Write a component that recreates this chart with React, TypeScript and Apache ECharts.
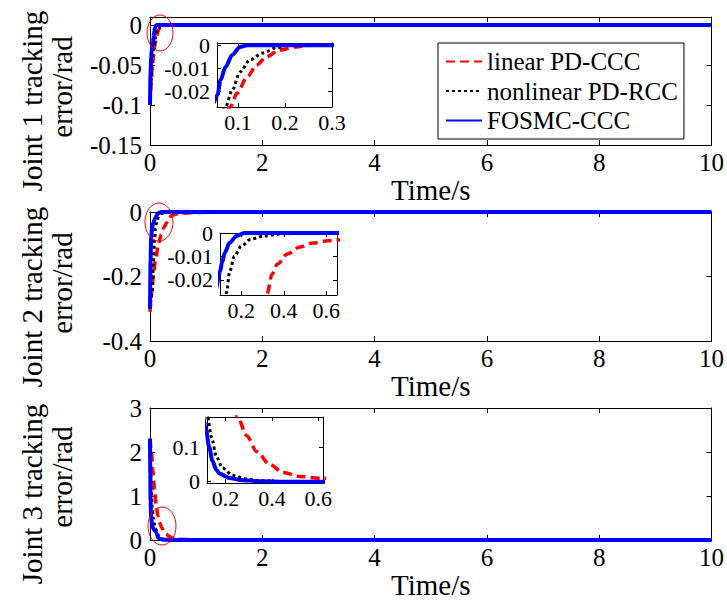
import React, { useEffect, useRef } from "react";
import * as echarts from "echarts";

const FONT = "Liberation Serif";

const SERIES_NAMES = ["linear PD-CCC", "nonlinear PD-RCC", "FOSMC-CCC"];
const COLORS = ["#ff0000", "#000000", "#0000ff"];

// Joint 1 tracking error (rad) vs time (s)
const j1LinearT = [0, 0.02, 0.036, 0.06, 0.083, 0.098, 0.119, 0.14, 0.16, 0.1875, 0.223, 0.256, 0.4, 10];
const j1LinearE = [-0.1, -0.075, -0.058, -0.04, -0.027, -0.0209, -0.0139, -0.0086, -0.0051, -0.0021, -0.0007, 0, 0, 0];
const j1NonlinT = [0, 0.02, 0.04, 0.06, 0.073, 0.0875, 0.104, 0.125, 0.152, 0.181, 0.202, 0.35, 10];
const j1NonlinE = [-0.1, -0.07, -0.045, -0.032, -0.027, -0.0196, -0.0117, -0.0064, -0.0034, -0.0012, 0, 0, 0];
const j1FosmcT = [0, 0.01, 0.02, 0.03, 0.045, 0.056, 0.0625, 0.073, 0.0875, 0.104, 0.119, 0.25, 10];
const j1FosmcE = [-0.1, -0.06, -0.04, -0.032, -0.026, -0.0217, -0.0152, -0.0095, -0.0042, -0.0007, 0, 0, 0];

// Joint 2 tracking error (rad) vs time (s)
const j2LinearT = [0, 0.03, 0.06, 0.1, 0.15, 0.2, 0.25, 0.29, 0.32, 0.345, 0.37, 0.416, 0.476, 0.536, 0.6, 0.65, 0.8, 1.0, 1.5, 10];
const j2LinearE = [-0.31, -0.25, -0.195, -0.145, -0.1, -0.07, -0.048, -0.035, -0.0265, -0.0175, -0.0133, -0.009, -0.006, -0.0043, -0.0034, -0.003, -0.002, -0.001, 0, 0];
const j2NonlinT = [0, 0.04, 0.06, 0.08, 0.1, 0.115, 0.131, 0.145, 0.168, 0.2, 0.246, 0.306, 0.384, 0.5, 10];
const j2NonlinE = [-0.3, -0.25, -0.16, -0.09, -0.05, -0.035, -0.0253, -0.0167, -0.0099, -0.0056, -0.0026, -0.0013, -0.0004, 0, 0];
const j2FosmcT = [0, 0.01, 0.02, 0.04, 0.06, 0.08, 0.1, 0.11, 0.122, 0.145, 0.177, 0.214, 0.35, 10];
const j2FosmcE = [-0.3, -0.15, -0.08, -0.045, -0.033, -0.024, -0.0165, -0.0125, -0.0085, -0.0042, -0.0013, 0, 0, 0];

// Joint 3 tracking error (rad) vs time (s)
const j3LinearT = [0, 0.03, 0.05, 0.08, 0.11, 0.14, 0.17, 0.21, 0.252, 0.291, 0.335, 0.391, 0.448, 0.52, 0.609, 0.8, 1.0, 1.5, 10];
const j3LinearE = [2.3, 1.95, 1.6, 1.15, 0.8, 0.55, 0.4, 0.28, 0.19, 0.135, 0.088, 0.05, 0.027, 0.015, 0.01, 0.005, 0.003, 0, 0];
const j3NonlinT = [0, 0.01, 0.02, 0.04, 0.06, 0.08, 0.1, 0.122, 0.139, 0.161, 0.187, 0.23, 0.29, 0.35, 0.45, 10];
const j3NonlinE = [2.3, 1.7, 1.2, 0.75, 0.5, 0.35, 0.26, 0.19, 0.131, 0.072, 0.04, 0.019, 0.008, 0.003, 0, 0];
const j3FosmcT = [0, 0.005, 0.01, 0.02, 0.04, 0.06, 0.08, 0.1, 0.115, 0.13, 0.143, 0.16, 0.174, 0.217, 0.261, 0.35, 0.45, 10];
const j3FosmcE = [2.3, 1.5, 0.9, 0.5, 0.32, 0.26, 0.22, 0.2, 0.155, 0.1, 0.062, 0.035, 0.024, 0.011, 0.005, 0.001, 0, 0];

// Tick values
const timeTicks = [0, 2, 4, 6, 8, 10];
const j1Ticks = [-0.15, -0.1, -0.05, 0];
const j2Ticks = [-0.4, -0.2, 0];
const j3Ticks = [0, 1, 2, 3];
const zoom1TimeTicks = [0.1, 0.2, 0.3];
const zoom1ErrTicks = [-0.02, -0.01, 0];
const zoom2TimeTicks = [0.2, 0.4, 0.6];
const zoom2ErrTicks = [-0.02, -0.01, 0];
const zoom3TimeTicks = [0.2, 0.4, 0.6];
const zoom3ErrTicks = [0, 0.1];

const AXIS_TITLES = ["Joint 1 tracking", "Joint 2 tracking", "Joint 3 tracking"];
const AXIS_UNIT = "error/rad";
const TIME_TITLE = "Time/s";

const pair = (t: number[], e: number[]) => t.map((x, i) => [x, e[i]]);

const joints = [
  [pair(j1LinearT, j1LinearE), pair(j1NonlinT, j1NonlinE), pair(j1FosmcT, j1FosmcE)],
  [pair(j2LinearT, j2LinearE), pair(j2NonlinT, j2NonlinE), pair(j2FosmcT, j2FosmcE)],
  [pair(j3LinearT, j3LinearE), pair(j3NonlinT, j3NonlinE), pair(j3FosmcT, j3FosmcE)],
];

type Box = { left: number; top: number; width: number; height: number };
type Range = { min: number; max: number; ticks: number[] };

const mainBoxes: Box[] = [
  { left: 150, top: 17, width: 562, height: 128 },
  { left: 150, top: 212, width: 562, height: 129 },
  { left: 150, top: 408, width: 562, height: 132 },
];
const zoomBoxes: Box[] = [
  { left: 217, top: 43, width: 115, height: 64 },
  { left: 220, top: 233, width: 117, height: 62 },
  { left: 207, top: 417, width: 116, height: 66 },
];

const mainY: Range[] = [
  { min: -0.15, max: 0.01, ticks: j1Ticks },
  { min: -0.4, max: 0, ticks: j2Ticks },
  { min: 0, max: 3, ticks: j3Ticks },
];
const zoomX: Range[] = [
  { min: 0.055, max: 0.3, ticks: zoom1TimeTicks },
  { min: 0.1, max: 0.65, ticks: zoom2TimeTicks },
  { min: 0.12, max: 0.62, ticks: zoom3TimeTicks },
];
const zoomY: Range[] = [
  { min: -0.027, max: 0.001, ticks: zoom1ErrTicks },
  { min: -0.0265, max: 0, ticks: zoom2ErrTicks },
  { min: -0.004, max: 0.19, ticks: zoom3ErrTicks },
];

const lineStyles = [
  { color: COLORS[0], width: 3.5, type: [9, 5] as number[] },
  { color: COLORS[1], width: 3, type: [3, 3] as number[] },
  { color: COLORS[2], width: 4, type: "solid" as const },
];

const axisLine = { show: true, onZero: false, lineStyle: { color: "#000", width: 1 } };

const tickOpt = (vals: number[], len: number) => ({
  show: true,
  inside: true,
  length: len,
  customValues: vals,
  lineStyle: { color: "#000", width: 1 },
});

const labelOpt = (vals: number[], margin: number, fontSize: number) => ({
  show: true,
  interval: 0,
  showMinLabel: true,
  showMaxLabel: true,
  hideOverlap: false,
  customValues: vals,
  margin,
  fontSize,
  fontFamily: FONT,
  color: "#000",
  formatter: (v: number) => String(v),
});

function buildAxes(
  gridIndex: number,
  xr: Range,
  yr: Range,
  fontSize: number,
  tickLen: number,
  xMargin: number,
  yMargin: number,
  withTimeName: boolean,
  yLabelValues: number[] = yr.ticks
) {
  const xAxes = [
    {
      type: "value",
      gridIndex,
      position: "bottom",
      min: xr.min,
      max: xr.max,
      axisLine,
      axisTick: tickOpt(xr.ticks, tickLen),
      axisLabel: labelOpt(xr.ticks, xMargin, fontSize),
      splitLine: { show: false },
      ...(withTimeName
        ? {
            name: TIME_TITLE,
            nameLocation: "middle",
            nameGap: 28,
            nameTextStyle: { fontSize: 29, fontFamily: FONT, color: "#000" },
          }
        : {}),
    },
    {
      type: "value",
      gridIndex,
      position: "top",
      min: xr.min,
      max: xr.max,
      axisLine,
      axisTick: tickOpt(xr.ticks, tickLen),
      axisLabel: { show: false },
      splitLine: { show: false },
    },
  ];
  const yAxes = [
    {
      type: "value",
      gridIndex,
      position: "left",
      min: yr.min,
      max: yr.max,
      axisLine,
      axisTick: tickOpt(yr.ticks, tickLen),
      axisLabel: labelOpt(yLabelValues, yMargin, fontSize),
      splitLine: { show: false },
    },
    {
      type: "value",
      gridIndex,
      position: "right",
      min: yr.min,
      max: yr.max,
      axisLine,
      axisTick: tickOpt(yr.ticks, tickLen),
      axisLabel: { show: false },
      splitLine: { show: false },
    },
  ];
  return { xAxes, yAxes };
}

export default function App() {
  const ref = useRef<HTMLDivElement>(null);

  useEffect(() => {
    if (!ref.current) return;
    const chart = echarts.init(ref.current, undefined, { renderer: "svg" });

    const grid: any[] = [];
    const xAxis: any[] = [];
    const yAxis: any[] = [];
    const series: any[] = [];

    mainBoxes.forEach((b, p) => {
      grid.push({ ...b, show: false });
      const { xAxes, yAxes } = buildAxes(
        p,
        { min: 0, max: 10, ticks: timeTicks },
        mainY[p],
        25,
        5,
        5,
        8,
        true
      );
      xAxis.push(...xAxes);
      yAxis.push(...yAxes);
    });
    zoomBoxes.forEach((b, p) => {
      grid.push({ ...b, show: true, backgroundColor: "#ffffff", borderWidth: 0 });
      // the lowest label of the third zoom box is placed separately below
      const yLabels = p === 2 ? zoomY[p].ticks.slice(1) : zoomY[p].ticks;
      const { xAxes, yAxes } = buildAxes(3 + p, zoomX[p], zoomY[p], 22, 4, 4, 7, false, yLabels);
      xAxis.push(...xAxes);
      yAxis.push(...yAxes);
    });

    joints.forEach((curves, p) => {
      curves.forEach((data, c) => {
        series.push({
          type: "line",
          name: SERIES_NAMES[c],
          xAxisIndex: 2 * p,
          yAxisIndex: 2 * p,
          data,
          symbol: "none",
          smooth: 0.3,
          smoothMonotone: "x",
          clip: false,
          lineStyle: lineStyles[c],
          itemStyle: { color: COLORS[c] },
          z: 2 + c,
        });
      });
      curves.forEach((data, c) => {
        series.push({
          type: "line",
          name: SERIES_NAMES[c],
          xAxisIndex: 2 * (3 + p),
          yAxisIndex: 2 * (3 + p),
          data,
          symbol: "none",
          smooth: 0.3,
          smoothMonotone: "x",
          clip: true,
          lineStyle: lineStyles[c],
          itemStyle: { color: COLORS[c] },
          z: 6 + c,
        });
      });
    });

    const graphic: any[] = [];
    // rotated y-axis titles, two lines per panel
    const titleCenters = [
      [101, 87],
      [297, 283],
      [494, 477],
    ];
    titleCenters.forEach(([c1, c2], p) => {
      graphic.push({
        type: "text",
        x: 32,
        y: c1,
        rotation: Math.PI / 2,
        style: {
          text: AXIS_TITLES[p],
          fontSize: 29,
          fontFamily: FONT,
          fill: "#000",
          align: "center",
          verticalAlign: "middle",
        },
      });
      graphic.push({
        type: "text",
        x: 62,
        y: c2,
        rotation: Math.PI / 2,
        style: {
          text: AXIS_UNIT,
          fontSize: 29,
          fontFamily: FONT,
          fill: "#000",
          align: "center",
          verticalAlign: "middle",
        },
      });
    });
    // red ellipses marking the zoomed regions
    const marks = [
      { cx: 160, cy: 33, rx: 13, ry: 18 },
      { cx: 159, cy: 222, rx: 14, ry: 19 },
      { cx: 162, cy: 526, rx: 14, ry: 19 },
    ];
    marks.forEach((m) => {
      graphic.push({
        type: "ellipse",
        shape: m,
        style: { fill: "none", stroke: "#ff0000", lineWidth: 1 },
        z: 20,
      });
    });

    chart.setOption({
      animation: false,
      backgroundColor: "#ffffff",
      grid,
      xAxis,
      yAxis,
      series,
      graphic,
      legend: {
        data: SERIES_NAMES,
        orient: "vertical",
        left: 438,
        top: 43,
        padding: [6, 6, 6, 7],
        itemGap: 4.5,
        itemWidth: 36,
        itemHeight: 14,
        borderColor: "#000",
        borderWidth: 1,
        backgroundColor: "#ffffff",
        selectedMode: false,
        itemStyle: { opacity: 0 },
        textStyle: { fontSize: 25, fontFamily: FONT, color: "#000" },
        z: 30,
      },
    });

    // lowest y label of the third zoom box, placed through that box's own scales
    const zoom3Axis = 2 * 5;
    const labelValue = zoomY[2].ticks[0];
    const py = chart.convertToPixel({ yAxisIndex: zoom3Axis }, labelValue) as number;
    const px = chart.convertToPixel({ xAxisIndex: zoom3Axis }, zoomX[2].min) as number;
    if (Number.isFinite(px) && Number.isFinite(py)) {
      chart.setOption({
        graphic: [
          ...graphic,
          {
            type: "text",
            x: px - 7,
            y: py,
            style: {
              text: String(labelValue),
              fontSize: 22,
              fontFamily: FONT,
              fill: "#000",
              align: "right",
              verticalAlign: "middle",
            },
            z: 25,
          },
        ],
      });
    }

    return () => chart.dispose();
  }, []);

  return (
    <div
      ref={ref}
      style={{ position: "absolute", left: 0, top: 0, width: 727, height: 603 }}
    />
  );
}
